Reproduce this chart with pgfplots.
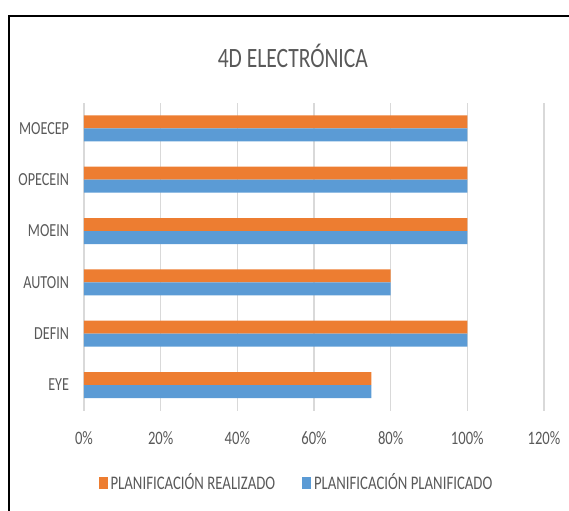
\documentclass[border=0pt]{standalone}
\usepackage{fontspec}
\setmainfont{Carlito}[FakeStretch=0.77]
\usepackage{pgfplots}
\pgfplotsset{compat=1.18}

\definecolor{realizado}{HTML}{ED7D31}
\definecolor{planificado}{HTML}{5B9BD5}
\definecolor{gridgray}{HTML}{D9D9D9}
\definecolor{txtgray}{HTML}{595959}

\begin{document}
\begin{tikzpicture}
% page: 569x510 px at 0.5pt per px, axis box lower left at the origin
\useasboundingbox (-42pt,-49.65pt) rectangle (242.5pt,205.35pt);
\begin{axis}[
    at={(0,0)}, anchor=south west,
    scale only axis,
    width=230pt, height=154pt,
    xbar,
    xmin=0, xmax=120,
    ymin=-0.5, ymax=5.5,
    xtick={0,20,...,120},
    xticklabel={\pgfmathprintnumber{\tick}\%},
    ytick={0,...,5},
    yticklabels={EYE,DEFIN,AUTOIN,MOEIN,OPECEIN,MOECEP},
    /pgf/number format/assume math mode=true,
    xmajorgrids=true,
    grid style={draw=gridgray, line width=0.6pt},
    axis line style={draw=none},
    tick style={draw=none},
    xticklabel style={font=\fontsize{9.5}{11}\selectfont, text=txtgray, anchor=base, yshift=-16.7pt},
    yticklabel style={font=\fontsize{9.2}{11}\selectfont, text=txtgray, anchor=east, inner sep=0pt, xshift=-3pt},
    title={4D ELECTRÓNICA},
    title style={at={(0.454,1.076)}, anchor=base, font=\fontsize{14}{16}\selectfont, text=txtgray},
    legend columns=2,
    legend style={at={(0.461,-0.235)}, anchor=center, draw=none, fill=none,
        font=\fontsize{9.6}{11}\selectfont, text=txtgray,
        nodes={inner sep=0.5pt}},
    legend image code/.code={\fill[#1] (0pt,-3pt) rectangle (4.4pt,3pt);},
]
\addplot[fill=realizado, draw=none, bar width=6.5pt, bar shift=3.25pt]
    coordinates {(75,0) (100,1) (80,2) (100,3) (100,4) (100,5)};
\addlegendentry{\rule{1pt}{0pt}PLANIFICACIÓN REALIZADO\rule{13pt}{0pt}}
\addplot[fill=planificado, draw=none, bar width=6.5pt, bar shift=-3.25pt]
    coordinates {(75,0) (100,1) (80,2) (100,3) (100,4) (100,5)};
\addlegendentry{\rule{1pt}{0pt}PLANIFICACIÓN PLANIFICADO}
\end{axis}
\draw[line width=1.25pt, black] (-37.5pt,-60pt) -- (-37.5pt,197.45pt) -- (260pt,197.45pt);
\end{tikzpicture}
\end{document}
